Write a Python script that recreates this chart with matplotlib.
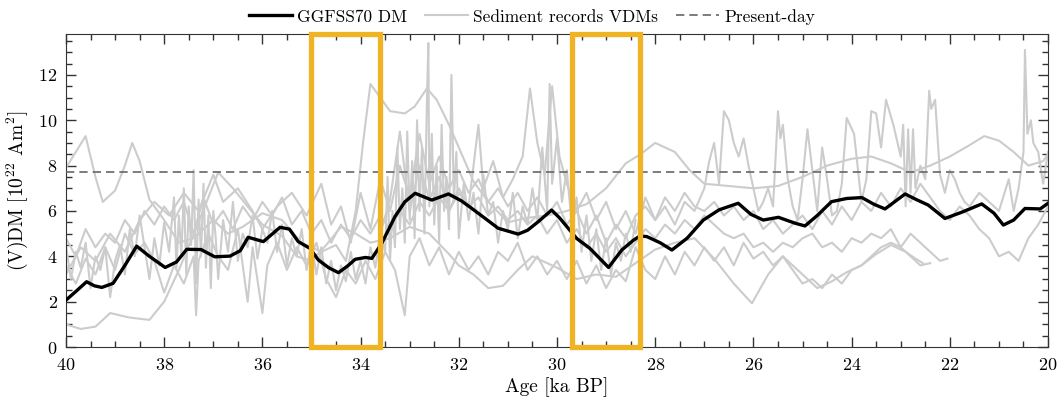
import numpy as np
import matplotlib
matplotlib.use('Agg')
import matplotlib.pyplot as plt
from matplotlib.patches import Rectangle
from matplotlib.ticker import MultipleLocator

plt.rcParams['font.family'] = 'serif'
plt.rcParams['font.serif'] = ['cmr10', 'DejaVu Serif']
plt.rcParams['mathtext.fontset'] = 'cm'
plt.rcParams['axes.formatter.use_mathtext'] = True
plt.rcParams['font.size'] = 13

# GGFSS70 dipole moment
dm_age = [40.0, 39.8, 39.58, 39.42, 39.27, 39.04, 38.8, 38.56, 38.3, 37.98, 37.75, 37.54,
          37.25, 36.97, 36.66, 36.45, 36.29, 35.98, 35.64, 35.45, 35.27, 35.03, 34.86,
          34.65, 34.45, 34.25, 34.11, 33.9, 33.77, 33.57, 33.3, 33.1, 32.89, 32.55,
          32.21, 31.95, 31.74, 31.45, 31.2, 30.79, 30.6, 30.38, 30.11, 29.95, 29.8,
          29.6, 29.33, 28.95, 28.68, 28.45, 28.31, 28.17, 27.9, 27.66, 27.35, 27.02,
          26.7, 26.31, 26.05, 25.8, 25.49, 25.15, 24.95, 24.7, 24.41, 24.1, 23.79,
          23.55, 23.32, 22.91, 22.68, 22.44, 22.1, 21.75, 21.35, 21.1, 20.91, 20.7,
          20.47, 20.16, 20.0]
dm_val = [2.07, 2.45, 2.88, 2.7, 2.63, 2.81, 3.6, 4.45, 4.0, 3.51, 3.75, 4.31,
          4.3, 3.98, 4.01, 4.25, 4.84, 4.65, 5.28, 5.2, 4.65, 4.35, 3.84,
          3.5, 3.28, 3.6, 3.87, 3.95, 3.91, 4.57, 5.75, 6.4, 6.78, 6.48,
          6.75, 6.45, 6.12, 5.65, 5.24, 4.98, 5.15, 5.53, 6.04, 5.7, 5.31,
          4.79, 4.35, 3.51, 4.28, 4.7, 4.9, 4.87, 4.6, 4.28, 4.8, 5.6,
          6.05, 6.34, 5.85, 5.6, 5.72, 5.46, 5.34, 5.8, 6.41, 6.55, 6.59,
          6.3, 6.09, 6.75, 6.5, 6.26, 5.67, 5.95, 6.31, 5.9, 5.38, 5.6,
          6.11, 6.09, 6.34]

present_day = 7.7

# sediment records (VDMs)
s1_age = [40.0, 39.8, 39.6, 39.4, 39.25, 39.0, 38.8, 38.65, 38.5, 38.3, 38.0, 37.7,
          37.4, 37.0, 36.7, 36.4, 36.0, 35.6, 35.2, 34.8, 34.5, 34.3, 34.1, 33.95,
          33.8, 33.6, 33.4, 33.1, 32.9, 32.65, 32.45, 32.2, 32.0, 31.7, 31.4, 31.0,
          30.6, 30.2, 29.8, 29.4, 29.0, 28.6, 28.3, 28.0, 27.6, 27.3, 27.0, 26.5,
          26.0, 25.5, 25.0, 24.5, 24.0, 23.6, 23.2, 22.8, 22.4, 22.0, 21.6, 21.3,
          21.0, 20.7, 20.4, 20.1, 20.0]
s1_val = [7.9, 8.6, 9.3, 7.5, 6.4, 6.9, 8.0, 9.0, 8.2, 6.5, 5.6, 4.6,
          4.8, 5.6, 5.0, 5.3, 5.9, 5.6, 4.6, 4.2, 4.5, 3.8, 6.0, 9.0,
          11.6, 11.0, 10.4, 10.3, 10.6, 11.4, 10.9, 9.8, 8.8, 7.3, 6.4, 5.5,
          5.7, 5.8, 6.0, 6.3, 7.0, 8.1, 8.5, 9.0, 8.6, 7.8, 7.2, 7.1,
          7.0, 7.1, 7.5, 8.0, 8.3, 8.4, 8.1, 7.7, 8.0, 8.4, 8.9, 9.3,
          9.1, 8.6, 8.0, 8.2, 8.5]

s2_age = [40.0, 39.7, 39.4, 39.1, 38.7, 38.3, 38.0, 37.7, 37.3, 36.9, 36.6, 36.3,
          36.0, 35.6, 35.3, 35.0, 34.7, 34.4, 34.1, 33.8, 33.4, 33.0, 32.6, 32.2,
          32.0, 31.7, 31.4, 31.1, 30.8, 30.5, 30.0, 29.6, 29.2, 28.8, 28.4, 28.0,
          27.6, 27.2, 26.8, 26.4, 26.03, 25.7, 25.4, 25.15, 24.9, 24.7, 24.4, 24.1,
          23.8, 23.5, 23.2, 22.9, 22.7, 22.55]
s2_val = [1.0, 0.8, 0.9, 1.5, 1.3, 1.2, 2.0, 3.4, 5.5, 7.7, 7.0, 6.2,
          5.4, 4.9, 4.0, 3.8, 4.5, 5.3, 5.0, 4.6, 4.8, 5.3, 5.0, 4.1,
          3.6, 3.2, 2.6, 2.7, 3.4, 4.0, 3.5, 3.0, 3.2, 3.1, 3.7, 4.3,
          4.6, 4.8, 3.9, 2.8, 1.93, 3.2, 4.0, 3.5, 3.0, 2.6, 2.9, 3.3,
          3.6, 4.1, 4.5, 4.2, 3.9, 3.7]

s3_age = [40.0, 39.9, 39.8, 39.7, 39.6, 39.5, 39.4, 39.3, 39.2, 39.1, 39.0, 38.9,
          38.8, 38.7, 38.6, 38.5, 38.4, 38.3, 38.2, 38.1, 38.0, 37.9, 37.8, 37.75,
          37.7, 37.65, 37.6, 37.55, 37.5, 37.45, 37.4, 37.35, 37.3, 37.25, 37.2, 37.15,
          37.1, 37.05, 37.0, 36.95, 36.9, 36.8, 36.7, 36.6, 36.5, 36.4, 36.3, 36.2,
          36.1, 36.0, 35.9, 35.8, 35.7, 35.6, 35.5, 35.4, 35.3, 35.2, 35.1, 35.0,
          34.9, 34.8, 34.7, 34.6, 34.5, 34.4, 34.3, 34.2, 34.1, 34.0, 33.9, 33.8,
          33.7, 33.6, 33.5, 33.45, 33.4, 33.35, 33.3, 33.25, 33.2, 33.15, 33.1, 33.05,
          33.0, 32.95, 32.9, 32.85, 32.8, 32.75, 32.7, 32.65, 32.62, 32.6, 32.55, 32.5,
          32.45, 32.4, 32.35, 32.3, 32.25, 32.2, 32.15, 32.1, 32.05, 32.0, 31.9, 31.8,
          31.7, 31.6, 31.5, 31.4, 31.3, 31.2, 31.1, 31.0, 30.9, 30.8, 30.7, 30.6,
          30.5, 30.4, 30.3, 30.2, 30.15, 30.1, 30.0, 29.9, 29.8, 29.7, 29.6, 29.5,
          29.4, 29.3, 29.2, 29.1, 29.0, 28.9, 28.8, 28.7, 28.6, 28.5, 28.4]
s3_val = [4.5, 3.0, 4.2, 3.5, 4.6, 2.6, 4.0, 3.4, 4.4, 2.2, 3.8, 4.5,
          3.2, 5.2, 4.0, 5.8, 4.4, 3.0, 4.8, 3.6, 5.5, 4.2, 6.6, 3.5,
          5.8, 4.0, 7.0, 3.2, 6.2, 4.5, 7.8, 2.8, 6.5, 4.0, 7.2, 3.5,
          5.8, 2.6, 6.0, 4.8, 3.0, 5.6, 4.2, 6.4, 3.8, 5.0, 4.4, 5.8,
          3.9, 5.2, 4.6, 6.0, 4.2, 5.4, 3.6, 4.8, 4.0, 5.2, 3.4, 4.6,
          3.2, 4.4, 2.8, 3.8, 2.5, 3.6, 2.9, 4.2, 3.0, 3.8, 2.8, 4.4,
          3.5, 5.0, 4.2, 7.5, 3.8, 6.0, 4.4, 8.8, 5.2, 7.0, 4.6, 9.5,
          5.6, 8.2, 4.8, 10.0, 6.0, 8.8, 5.0, 10.8, 13.4, 6.2, 9.4, 5.4,
          8.0, 4.6, 9.8, 6.0, 7.5, 5.2, 12.0, 6.4, 8.6, 4.8, 7.2, 5.6,
          6.8, 5.0, 7.6, 5.8, 6.4, 4.6, 6.0, 5.2, 6.8, 4.8, 6.2, 5.4,
          7.0, 5.6, 8.8, 6.0, 11.6, 7.2, 9.2, 6.4, 7.8, 5.4, 6.6, 4.2,
          5.8, 3.8, 5.2, 3.4, 4.8, 3.2, 4.6, 3.8, 5.0, 4.2, 5.6]

s4_age = [33.6, 33.4, 33.2, 33.0, 32.8, 32.6, 32.4, 32.2, 32.0, 31.8, 31.6, 31.5,
          31.3, 31.1, 30.9, 30.7, 30.55, 30.4, 30.25, 30.1, 29.95, 29.8, 29.6, 29.4,
          29.2, 29.0, 28.8, 28.6, 28.4, 28.2, 28.0, 27.8, 27.6, 27.4, 27.2, 27.0,
          26.9, 26.8, 26.7, 26.6, 26.5, 26.4, 26.3, 26.2, 26.1, 26.0, 25.9, 25.8,
          25.7, 25.6, 25.5, 25.45, 25.4, 25.3, 25.2, 25.1, 25.0, 24.9, 24.8, 24.7,
          24.6, 24.5, 24.4, 24.3, 24.2, 24.1, 23.95, 23.8, 23.7, 23.6, 23.5, 23.4,
          23.3, 23.15, 23.0, 22.95, 22.9, 22.85, 22.8, 22.75, 22.7, 22.6, 22.5, 22.42,
          22.38, 22.3, 22.2, 22.1, 22.0, 21.9, 21.8, 21.7, 21.6, 21.4, 21.2, 21.0,
          20.8, 20.7, 20.6, 20.5, 20.47, 20.42, 20.35, 20.3, 20.2, 20.1, 20.0]
s4_val = [5.0, 6.5, 9.5, 6.0, 8.0, 6.5, 7.5, 6.0, 7.0, 6.2, 9.8, 7.0,
          8.2, 6.6, 7.4, 8.4, 11.4, 9.0, 7.6, 11.5, 8.4, 7.2, 6.0, 6.8,
          5.6, 6.4, 5.2, 6.0, 5.0, 6.6, 5.6, 6.2, 5.4, 6.4, 6.0, 7.0,
          8.2, 9.0, 7.2, 10.4, 10.0, 9.0, 8.4, 9.2, 8.0, 7.0, 6.0, 6.4,
          7.0, 6.2, 10.4, 9.2, 9.8, 7.4, 6.2, 5.6, 7.4, 9.6, 7.8, 6.0,
          8.8, 7.4, 5.8, 6.0, 7.2, 10.1, 9.4, 6.4, 7.4, 10.4, 10.3, 8.8,
          10.9, 9.8, 8.4, 9.8, 6.2, 9.6, 6.8, 9.6, 7.0, 8.0, 7.4, 11.3,
          10.5, 10.9, 7.6, 6.8, 7.8, 7.4, 6.8, 6.4, 6.2, 6.8, 6.4, 6.0,
          7.4, 6.0, 7.0, 8.6, 13.1, 9.4, 10.0, 9.0, 8.6, 7.2, 8.6]

s5_age = [40.0, 39.8, 39.6, 39.4, 39.2, 39.0, 38.8, 38.6, 38.4, 38.2, 38.0, 37.8,
          37.6, 37.4, 37.35, 37.3, 37.1, 36.9, 36.7, 36.5, 36.3, 36.2, 36.0, 35.9,
          35.7, 35.5, 35.3, 35.1, 34.9, 34.7, 34.5, 34.3, 34.1, 33.9, 33.7, 33.5,
          33.3, 33.1, 33.0, 32.8, 32.6, 32.4, 32.2, 32.0, 31.8, 31.6, 31.4, 31.2,
          31.0, 30.8, 30.6, 30.4, 30.2, 30.0, 29.8, 29.6, 29.4, 29.2, 29.0, 28.8,
          28.6, 28.4, 28.2, 28.0, 27.8, 27.6, 27.4, 27.2, 27.0, 26.8, 26.6, 26.4,
          26.2, 26.0, 25.8, 25.6, 25.4, 25.2, 25.0, 24.8, 24.6, 24.4, 24.2, 24.0,
          23.8, 23.6, 23.4, 23.2, 23.0, 22.8, 22.6, 22.4]
s5_val = [3.6, 2.8, 3.9, 3.2, 4.4, 3.4, 5.0, 4.1, 4.6, 3.8, 2.4, 3.6,
          2.8, 4.0, 1.4, 3.8, 5.0, 4.0, 3.4, 5.2, 2.0, 4.4, 1.5, 3.6,
          4.6, 3.4, 4.4, 3.6, 4.6, 3.0, 2.2, 3.4, 2.8, 3.8, 3.0, 4.2,
          3.4, 1.4, 4.0, 4.8, 3.6, 4.4, 3.2, 4.2, 3.4, 4.0, 3.2, 4.2,
          3.8, 4.6, 3.4, 4.0, 3.2, 3.8, 3.0, 3.8, 2.8, 3.6, 2.6, 3.4,
          2.9, 4.4, 3.4, 3.0, 4.0, 3.2, 4.2, 3.6, 4.4, 3.8, 4.4, 3.6,
          4.6, 3.9, 4.2, 3.6, 4.0, 3.4, 2.8, 3.0, 2.6, 3.2, 2.8, 3.4,
          3.6, 4.0, 4.4, 4.6, 4.4, 4.0, 3.6, 3.7]

s6_age = [40.0, 39.8, 39.6, 39.4, 39.2, 39.0, 38.8, 38.6, 38.4, 38.2, 38.0, 37.8,
          37.6, 37.4, 37.2, 37.0, 36.8, 36.6, 36.4, 36.2, 36.0, 35.8, 35.6, 35.4,
          35.2, 35.0, 34.8, 34.6, 34.4, 34.2, 34.0, 33.8, 33.6, 33.4, 33.2, 33.0,
          32.8, 32.6, 32.4, 32.2, 32.0, 31.8, 31.6, 31.4, 31.2, 31.0, 30.8, 30.6,
          30.4, 30.2, 30.0, 29.8, 29.6, 29.4, 29.2, 29.0, 28.8, 28.6, 28.4, 28.2,
          28.0, 27.8, 27.6, 27.4, 27.2, 27.0, 26.8, 26.6, 26.4, 26.2, 26.0, 25.8,
          25.6, 25.4, 25.2, 25.0, 24.8, 24.6, 24.4, 24.2, 24.0, 23.8, 23.6, 23.4,
          23.2, 23.0, 22.8, 22.6, 22.4, 22.2, 22.05]
s6_val = [4.8, 4.0, 5.2, 4.4, 5.0, 4.6, 5.6, 5.0, 6.0, 5.4, 6.2, 5.6,
          6.4, 5.0, 6.6, 5.4, 6.0, 5.2, 6.2, 5.6, 6.4, 5.8, 6.6, 5.4,
          6.0, 5.0, 5.6, 4.6, 5.4, 4.8, 5.6, 5.0, 5.8, 5.2, 6.0, 5.4,
          6.4, 5.8, 6.6, 6.0, 6.8, 6.2, 6.6, 5.8, 6.2, 5.6, 6.0, 5.4,
          5.8, 5.0, 5.6, 4.6, 5.2, 4.4, 5.0, 4.2, 4.8, 4.0, 4.6, 5.2,
          4.8, 5.4, 5.0, 5.6, 5.2, 5.8, 5.4, 5.0, 4.8, 5.0, 4.4, 4.6,
          4.2, 4.6, 4.4, 4.8, 5.0, 4.4, 4.6, 4.2, 4.8, 4.6, 5.0, 4.8,
          5.2, 4.4, 5.0, 4.6, 4.2, 3.8, 3.9]

s7_age = [40.0, 39.7, 39.4, 39.1, 38.8, 38.5, 38.2, 37.9, 37.6, 37.3, 37.0, 36.8,
          36.5, 36.2, 36.0, 35.7, 35.4, 35.1, 34.8, 34.6, 34.4, 34.2, 34.0, 33.8,
          33.6, 33.4, 33.2, 33.0, 32.8, 32.6, 32.4, 32.2, 32.0, 31.8, 31.6, 31.4,
          31.2, 31.0, 30.8, 30.6, 30.4, 30.2, 30.0, 29.8, 29.6, 29.4, 29.2, 29.0,
          28.8, 28.6, 28.4, 28.2, 28.0, 27.8, 27.6, 27.4, 27.2, 27.0, 26.8, 26.6,
          26.4, 26.2, 26.0, 25.8, 25.6, 25.4, 25.2, 25.0, 24.8, 24.6, 24.4, 24.2,
          24.0, 23.8, 23.6, 23.4, 23.2, 23.0, 22.8, 22.6, 22.4, 22.2, 22.0, 21.8,
          21.6, 21.4, 21.2, 21.0, 20.8, 20.6, 20.4, 20.2, 20.0]
s7_val = [3.2, 4.4, 3.8, 5.0, 4.2, 5.6, 6.4, 5.8, 6.8, 6.0, 7.6, 6.4,
          7.0, 6.0, 5.2, 6.2, 6.8, 5.8, 7.2, 5.4, 6.2, 4.6, 6.8, 5.2,
          7.4, 6.0, 8.0, 6.6, 9.4, 7.2, 8.4, 7.0, 7.8, 6.8, 7.4, 6.4,
          7.0, 6.2, 6.8, 6.0, 6.6, 5.8, 6.4, 5.4, 6.0, 5.0, 5.8, 4.6,
          5.4, 4.8, 5.8, 6.2, 5.6, 6.6, 6.0, 6.8, 6.2, 6.0, 6.4, 5.8,
          6.2, 5.6, 6.0, 5.2, 5.6, 5.0, 5.4, 5.8, 5.2, 6.0, 5.4, 6.2,
          5.6, 6.4, 6.0, 6.8, 6.2, 7.0, 6.4, 7.2, 6.6, 6.0, 5.6, 6.2,
          5.8, 5.2, 4.8, 4.0, 4.2, 3.8, 4.8, 5.4, 6.2]

records = [(s1_age, s1_val), (s2_age, s2_val), (s3_age, s3_val), (s4_age, s4_val),
           (s5_age, s5_val), (s6_age, s6_val), (s7_age, s7_val)]

# highlighted intervals (start, end) in ka BP
boxes = [(35.0, 33.6), (29.7, 28.3)]

fig = plt.figure(figsize=(10.64, 4.05), dpi=100)
ax = fig.add_axes([0.062, 0.143, 0.923, 0.773])

for i, (a, v) in enumerate(records):
    ax.plot(a, v, color='#cccccc', linewidth=1.5,
            label='Sediment records VDMs' if i == 0 else None, zorder=2)

ax.plot(dm_age, dm_val, color='black', linewidth=2.4, label='GGFSS70 DM', zorder=4)
ax.axhline(present_day, color='#666666', linewidth=1.2, linestyle=(0, (5, 3)),
           label='Present-day', zorder=3)

ymax = 13.8
for x0, x1 in boxes:
    ax.add_patch(Rectangle((x1, 0), x0 - x1, ymax, fill=False, edgecolor='#f0b323',
                           linewidth=3.8, clip_on=False, zorder=5))

ax.set_xlim(40, 20)
ax.set_ylim(0, ymax)
ax.xaxis.set_major_locator(MultipleLocator(2))
ax.xaxis.set_minor_locator(MultipleLocator(0.5))
ax.yaxis.set_major_locator(MultipleLocator(2))
ax.yaxis.set_minor_locator(MultipleLocator(0.5))
ax.tick_params(which='both', direction='in', top=True, right=True, labelsize=13,
               color='#333333')
ax.tick_params(which='major', length=7, width=1)
ax.tick_params(which='minor', length=4, width=1)
ax.tick_params(axis='x', which='major', pad=7)
ax.tick_params(axis='y', which='major', pad=6)
for sp in ax.spines.values():
    sp.set_color('#333333')

ax.set_xlabel('Age [ka BP]', fontsize=14, labelpad=3)
ax.set_ylabel('(V)DM [$10^{22}$ Am$^2$]', fontsize=14, labelpad=6)

h, l = ax.get_legend_handles_labels()
order = [l.index('GGFSS70 DM'), l.index('Sediment records VDMs'), l.index('Present-day')]
fig.legend([h[k] for k in order], [l[k] for k in order], loc='upper center',
           bbox_to_anchor=(0.5, 1.0), ncol=3, frameon=False, fontsize=12.5,
           handlelength=2.5, handletextpad=0.3, columnspacing=1.0, borderaxespad=0.1)

plt.savefig('out.png', dpi=100)
